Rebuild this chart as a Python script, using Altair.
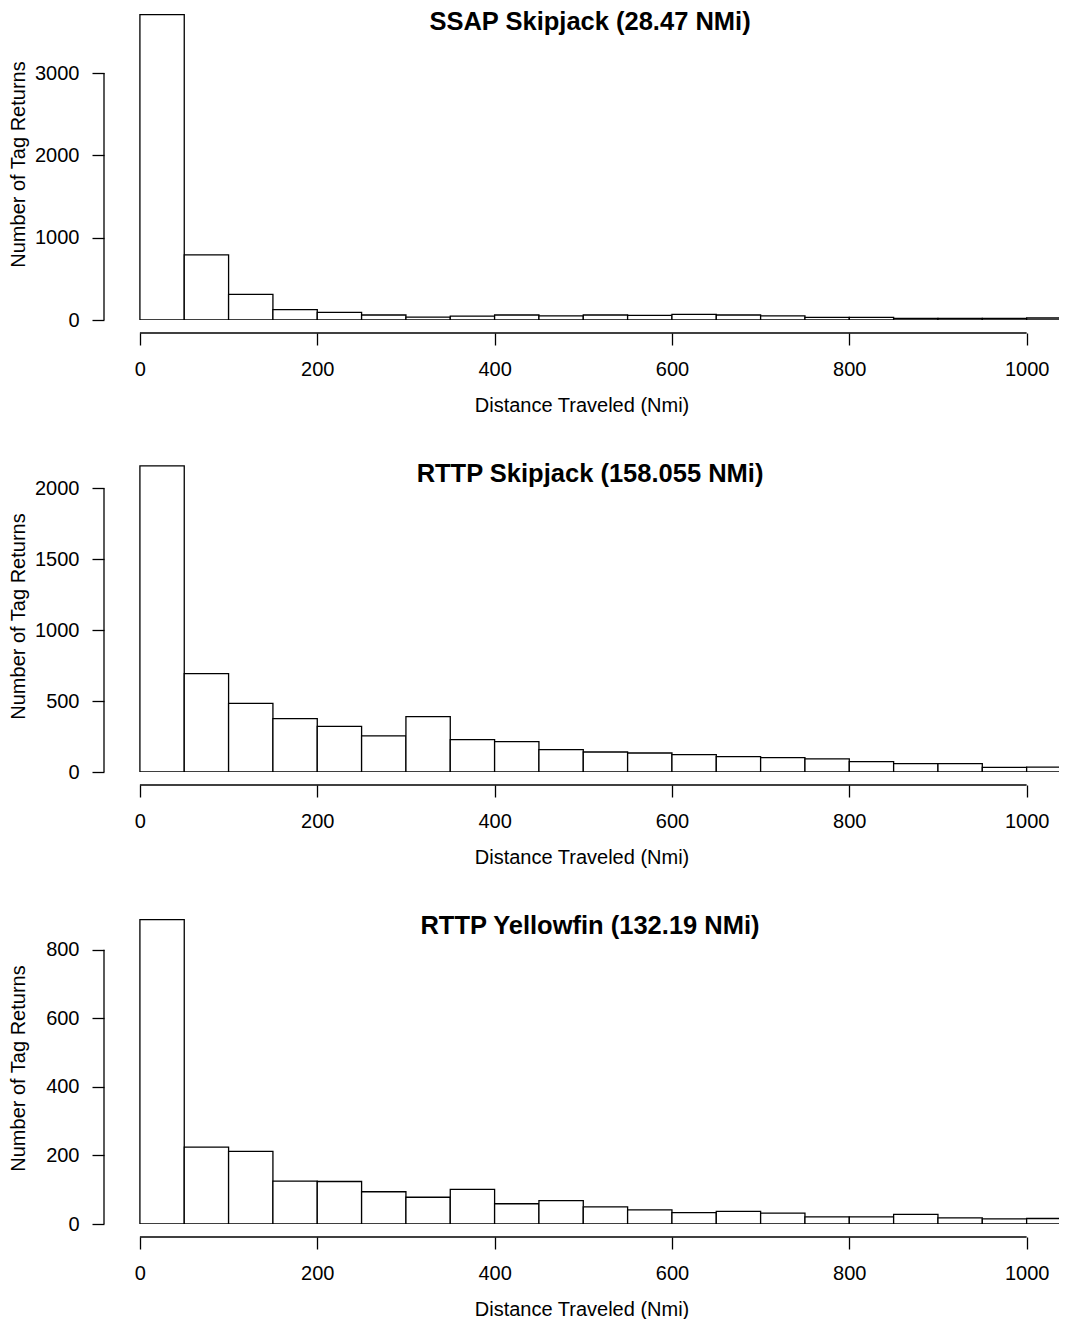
import altair as alt
import pandas as pd

# ---- data ----
bin_starts = list(range(0, 1050, 50))
bin_width = 50

titles = ["SSAP Skipjack (28.47 NMi)", "RTTP Skipjack (158.055 NMi)", "RTTP Yellowfin (132.19 NMi)"]
ssap_skj = [3710, 790, 311, 125, 92, 61, 36, 48, 61, 49, 61, 57, 69, 61, 49, 32, 32, 20, 20, 20, 24]
rttp_skj = [2158, 694, 484, 376, 322, 254, 390, 228, 214, 157, 141, 134, 122, 108, 101, 92, 73, 59, 59, 33, 35]
rttp_yft = [888, 224, 212, 125, 124, 94, 78, 101, 59, 68, 50, 41, 33, 37, 32, 21, 21, 28, 18, 15, 16]

x_ticks = [0, 200, 400, 600, 800, 1000]
y_ticks = [[0, 1000, 2000, 3000], [0, 500, 1000, 1500, 2000], [0, 200, 400, 600, 800]]
y_domains = [3790, 2199, 910]
x_domain = [-40.5, 1036.5]

x_title = "Distance Traveled (Nmi)"
y_title = "Number of Tag Returns"

FONT = "Liberation Sans"
W = 955
H = 312
LW = 1.3


def panel(counts, title, yticks, ydom):
    df = pd.DataFrame({
        "start": bin_starts,
        "end": [b + bin_width for b in bin_starts],
        "count": counts,
    })
    xs = alt.Scale(domain=x_domain, nice=False, zero=False)
    ys = alt.Scale(domain=[0, ydom], nice=False, zero=True)
    xax = alt.Axis(values=x_ticks, format="d", domain=False, offset=13, tickSize=12, tickWidth=LW,
                   tickColor="black", labelFontSize=20, labelPadding=14, labelColor="black",
                   labelFont=FONT, labelFlush=False, labelOverlap=False, grid=False,
                   title=x_title, titleFontSize=20, titleFontWeight="normal", titleFont=FONT,
                   titleColor="black", titlePadding=16)
    yax = alt.Axis(values=yticks, format="d", domain=False, tickSize=12, tickWidth=LW, tickColor="black",
                   labelFontSize=20, labelPadding=13, labelColor="black", labelFont=FONT,
                   labelFlush=False, labelOverlap=False, grid=False,
                   title=y_title, titleFontSize=20, titleFontWeight="normal", titleFont=FONT,
                   titleColor="black", titleX=-80, titleBaseline="alphabetic")

    bars = alt.Chart(df).mark_rect(fill="white", stroke="black", strokeWidth=LW, clip=True).encode(
        x=alt.X("start:Q", scale=xs, axis=xax),
        x2="end:Q",
        y=alt.Y("count:Q", scale=ys, axis=yax),
        y2=alt.datum(0),
    )
    yline = alt.Chart(pd.DataFrame({"lo": [yticks[0]], "hi": [yticks[-1]]})).mark_rule(
        color="black", strokeWidth=LW).encode(
        x=alt.value(0),
        y=alt.Y("lo:Q", scale=ys, axis=yax),
        y2="hi:Q",
    )
    xline = alt.Chart(pd.DataFrame({"lo": [x_ticks[0]], "hi": [x_ticks[-1]]})).mark_rule(
        color="black", strokeWidth=LW).encode(
        x=alt.X("lo:Q", scale=xs, axis=xax),
        x2="hi:Q",
        y=alt.value(H + 13),
    )
    ttl = alt.Chart(pd.DataFrame({"t": [title]})).mark_text(
        font=FONT, fontSize=25.5, fontWeight="bold", color="black", baseline="middle", align="center"
    ).encode(x=alt.value(486), y=alt.value(H - 297.8), text="t:N")
    return alt.layer(bars, yline, xline, ttl).properties(width=W, height=H)


chart = alt.vconcat(
    panel(ssap_skj, titles[0], y_ticks[0], y_domains[0]),
    panel(rttp_skj, titles[1], y_ticks[1], y_domains[1]),
    panel(rttp_yft, titles[2], y_ticks[2], y_domains[2]),
    spacing=140,
    bounds="flush",
).properties(
    padding={"left": 0, "top": 0, "right": 0, "bottom": 0}
).configure(
    font=FONT, background="white"
).configure_view(stroke=None, fill="white")

chart.save("out.html", embed_options={"renderer": "svg", "actions": False})
